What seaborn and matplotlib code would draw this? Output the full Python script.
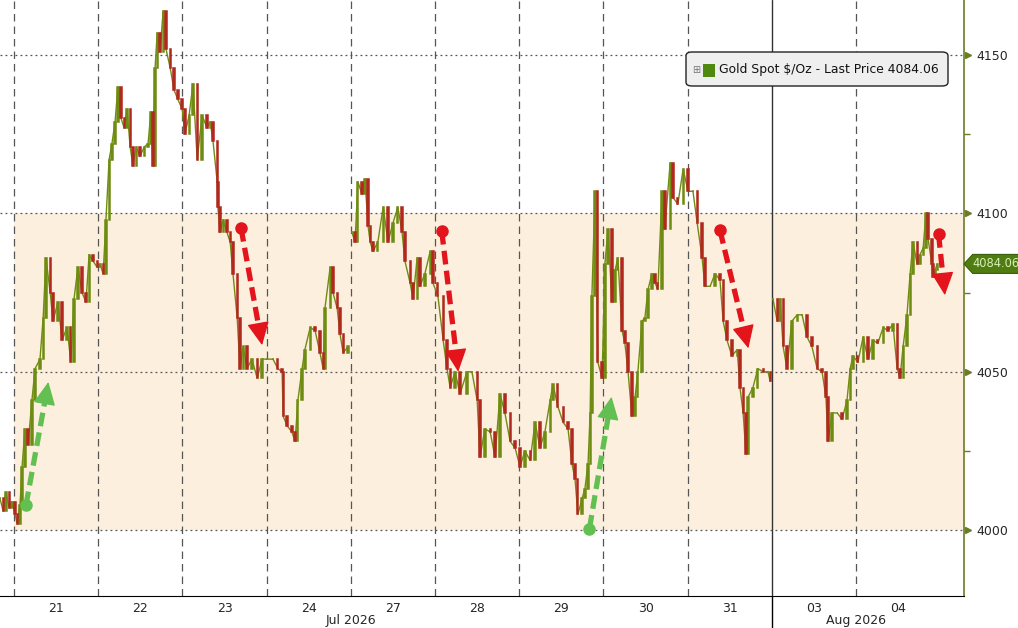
import matplotlib
matplotlib.use("Agg")
import matplotlib.pyplot as plt
import matplotlib.transforms as mtransforms
from matplotlib.patches import Polygon, FancyBboxPatch
import numpy as np
import seaborn as sns

# Gold spot $/oz. Hours are counted from the start of the
# 21 Jul session (one trading day = 24 h, weekends removed like Bloomberg does)
wk1_hours = [-4.0, -3.1, -2.3, -1.4, -0.6, 0.3, 0.9, 1.7, 2.3, 3.1, 4.0, 5.1, 6.0, 7.4,
             8.3, 9.1, 10.3, 11.1, 12.5, 13.7, 15.1, 16.2, 17.1, 18.2, 19.4, 20.5, 21.4,
             22.5, 23.7, 24.5, 25.4, 26.2, 27.1, 27.9, 28.8, 29.6, 30.5, 31.4, 32.2, 33.1,
             33.9, 34.8, 35.9, 37.1, 38.2, 39.0, 39.6, 40.2, 40.8, 41.6, 42.5, 43.3, 44.5,
             45.6, 46.7, 47.9, 48.7, 49.9, 51.0, 52.2, 53.6, 55.0, 55.9, 56.7, 57.9, 58.1,
             58.7, 59.6, 60.7, 61.6, 62.4, 63.6, 64.4, 65.3, 66.4, 67.8, 69.3, 70.7, 72.1,
             73.8, 75.2, 76.4, 76.7, 77.8, 79.2, 80.1, 80.9, 82.1, 82.9, 84.4, 85.8, 87.2,
             88.1, 88.6, 90.1, 90.9, 92.1, 92.9, 93.8, 95.2]
wk1_price = [4010, 4006, 4012, 4007, 4009, 4005, 4002, 4008, 4020, 4032, 4027, 4041, 4051, 4054,
             4067, 4086, 4075, 4066, 4072, 4060, 4064, 4053, 4073, 4083, 4075, 4072, 4087,
             4085, 4083, 4084, 4081, 4098, 4117, 4122, 4129, 4140, 4130, 4127, 4133, 4121,
             4115, 4121, 4118, 4121, 4122, 4132, 4115, 4146, 4157, 4151, 4164, 4152, 4146,
             4139, 4136, 4133, 4125, 4131, 4141, 4117, 4131, 4127, 4129, 4123, 4110, 4102,
             4094, 4098, 4094, 4091, 4081, 4067, 4051, 4058, 4051, 4054, 4048, 4054, 4054,
             4054, 4051, 4050, 4036, 4033, 4031, 4028, 4041, 4051, 4057, 4064, 4063, 4056,
             4051, 4070, 4083, 4075, 4070, 4062, 4056, 4058]

wk2_hours = [96.3, 97.2, 98.0, 99.2, 100.0, 100.9, 101.5, 102.3, 103.7, 105.2, 106.6, 108.0,
             109.4, 110.6, 111.4, 112.9, 113.7, 114.9, 115.7, 117.1, 118.6, 119.4, 120.8,
             122.3, 123.4, 124.3, 125.7, 127.1, 129.1, 130.5, 132.0, 132.8, 134.2, 135.7,
             137.1, 138.5, 139.9, 141.4, 142.8, 144.2, 145.6, 147.1, 148.5, 149.9, 151.3,
             152.8, 153.6, 155.0, 156.5, 157.9, 159.0, 159.9, 160.7, 161.9, 162.7, 163.6,
             164.2, 164.7, 165.6, 166.4, 167.6, 168.4, 169.3, 170.4, 171.3, 172.1, 173.3,
             174.1, 175.0, 176.1, 177.0, 177.8, 179.0, 179.8, 180.7, 181.8, 182.7, 183.5,
             184.7, 185.5, 187.0, 187.8, 189.2, 190.7, 192.1, 193.5, 194.7, 196.1, 196.9,
             198.4, 199.8, 201.2, 202.1, 203.2, 204.6, 206.1, 206.9, 207.8, 208.6, 209.2,
             210.6, 212.0, 213.5, 214.9, 215.5]
wk2_price = [4094, 4091, 4110, 4106, 4111, 4096, 4091, 4088, 4091, 4102, 4091, 4097,
             4102, 4094, 4085, 4078, 4073, 4086, 4077, 4081, 4088, 4078, 4074,
             4060, 4051, 4045, 4050, 4043, 4050, 4050, 4041, 4023, 4032, 4031,
             4023, 4043, 4037, 4028, 4026, 4020, 4025, 4022, 4034, 4026, 4031,
             4041, 4046, 4039, 4034, 4032, 4021, 4016, 4005, 4010, 4013, 4021,
             4037, 4074, 4107, 4053, 4048, 4084, 4095, 4072, 4082, 4086, 4063,
             4059, 4050, 4036, 4042, 4050, 4066, 4067, 4076, 4081, 4078, 4076,
             4107, 4095, 4116, 4105, 4103, 4114, 4107, 4107, 4097, 4086, 4077,
             4077, 4081, 4079, 4066, 4060, 4055, 4057, 4045, 4037, 4024, 4042,
             4045, 4051, 4050, 4050, 4047]

wk3_hours = [216.3, 217.5, 218.3, 219.2, 220.3, 221.7, 223.2, 224.6, 226.0, 227.4, 228.9,
             230.3, 231.4, 232.0, 233.1, 234.6, 236.0, 237.4, 238.3, 239.1, 240.5, 242.0,
             243.4, 244.8, 246.2, 247.7, 249.1, 250.5, 251.7, 252.5, 253.4, 254.5, 255.4,
             256.2, 257.4, 258.2, 259.1, 259.9, 260.5, 261.6, 261.9, 262.5, 263.1]
wk3_price = [4073, 4066, 4073, 4058, 4051, 4066, 4068, 4068, 4061, 4058, 4051,
             4050, 4042, 4028, 4037, 4037, 4035, 4041, 4051, 4055, 4053, 4061,
             4054, 4060, 4059, 4064, 4063, 4065, 4051, 4048, 4058, 4068, 4081,
             4091, 4084, 4087, 4089, 4100, 4092, 4084, 4080, 4082, 4084.06]

day_labels = ['21', '22', '23', '24', '27', '28', '29', '30', '31', '03', '04']
month_labels = ['Jul 2026', 'Aug 2026']
y_ticks = [4000, 4050, 4100, 4150]
y_minor = [4025, 4075, 4125]
band_low, band_high = 4000, 4100
last_price = 4084.06

# annotation arrows: (start hour, start price) -> (tip hour, tip price)
arrows_red = [((64.7, 4095.4), (70.7, 4058.4)),
              ((121.9, 4094.5), (126.6, 4050.0)),
              ((201.2, 4094.7), (209.3, 4057.4)),
              ((263.5, 4093.5), (265.3, 4074.2))]
arrows_green = [((3.4, 4007.9), (9.8, 4046.8)),
                ((164.0, 4000.5), (170.3, 4042.1))]

UP = '#6f8c12'
DOWN = '#b0281e'
AXIS_GREEN = '#6b7d22'
GRID = '#555555'

sns.set_style("white")
plt.rcParams['font.family'] = ['DejaVu Sans']

fig = plt.figure(figsize=(10.18, 6.28), dpi=100)
ax = fig.add_axes([0, 32 / 628, 964 / 1018, 596 / 628])
x_left, x_right = -4.0, 270.75
ax.set_xlim(x_left, x_right)
ax.set_ylim(3979.2, 4167.4)

# shaded range
ax.fill_between([0, x_right], band_low, band_high, color='#fdefdd', lw=0, zorder=0)

# grid
for k in range(len(day_labels)):
    if day_labels[k] == '03':
        ax.axvline(24 * k, color='#333333', lw=1.0, zorder=1)
    else:
        ax.axvline(24 * k, color=GRID, lw=0.9, ls=(0, (6, 4)), zorder=1)
for y in y_ticks:
    ax.axhline(y, color=GRID, lw=0.9, ls=(0, (1.5, 2.5)), zorder=1)

# candles, open = previous close inside a week
for hrs, px in [(wk1_hours, wk1_price), (wk2_hours, wk2_price), (wk3_hours, wk3_price)]:
    h = np.array(hrs)
    c = np.array(px, dtype=float)
    o = np.r_[c[0], c[:-1]]
    up = c >= o
    sns.lineplot(x=h, y=c, ax=ax, color=UP, lw=1.0, zorder=2)
    ax.bar(h[up], (c - o)[up], bottom=o[up], width=0.35, color=UP, edgecolor=UP, lw=1.1, zorder=3)
    ax.bar(h[~up], (c - o)[~up], bottom=o[~up], width=0.35, color=DOWN, edgecolor=DOWN, lw=1.1, zorder=3)

# dashed arrows: dashed shaft + solid filled head
head_px = 20
for arrows, col in [(arrows_red, '#e3141c'), (arrows_green, '#62c052')]:
    for start, tip in arrows:
        p0 = ax.transData.transform(start)
        p1 = ax.transData.transform(tip)
        u = (p1 - p0) / np.hypot(*(p1 - p0))
        base = ax.transData.inverted().transform(p1 - u * head_px)
        ax.plot([start[0], base[0]], [start[1], base[1]], color=col, lw=3.8,
                dashes=(2.6, 1.2), solid_capstyle='butt', dash_capstyle='butt', zorder=5)
        ax.annotate('', xy=tip, xytext=base,
                    arrowprops=dict(arrowstyle='-|>,head_length=1.45,head_width=0.7',
                                    color=col, lw=1, shrinkA=0, shrinkB=0), zorder=6)
        ax.plot([start[0]], [start[1]], marker='o', ms=8, color=col, zorder=6)

# axes styling
for s in ['left', 'top']:
    ax.spines[s].set_visible(False)
ax.spines['bottom'].set_color('black')
ax.spines['right'].set_color(AXIS_GREEN)
ax.spines['right'].set_linewidth(1.2)

ax.set_xticks([24 * k + 12 for k in range(len(day_labels))])
ax.set_xticklabels(day_labels, fontsize=9)
ax.tick_params(axis='x', length=0, pad=4)

ax.yaxis.tick_right()
ax.set_yticks(y_ticks)
ax.set_yticklabels([str(v) for v in y_ticks], fontsize=9)
ax.set_yticks(y_minor, minor=True)
ax.tick_params(axis='y', which='major', length=0, pad=9)
ax.tick_params(axis='y', which='minor', length=4, width=1, color=AXIS_GREEN, direction='out')
ax.set_ylabel('')

trans_y = mtransforms.blended_transform_factory(ax.transAxes, ax.transData)
ax.plot([1.004] * len(y_ticks), y_ticks, marker='>', ms=5, ls='none', color=AXIS_GREEN,
        transform=trans_y, clip_on=False, zorder=6)

# month labels and separator below axis
trans_x = mtransforms.blended_transform_factory(ax.transData, ax.transAxes)
ax.text(96, -0.041, month_labels[0], transform=trans_x, ha='center', va='center', fontsize=9)
ax.text(240, -0.041, month_labels[1], transform=trans_x, ha='center', va='center', fontsize=9)
ax.plot([216, 216], [0, -0.06], transform=trans_x, color='black', lw=1.0, clip_on=False)

# last price tag
tag = Polygon([(1.0, last_price), (1.009, last_price + 3.0), (1.06, last_price + 3.0),
               (1.06, last_price - 3.0), (1.009, last_price - 3.0)], closed=True,
              transform=trans_y, facecolor='#4f7d12', edgecolor='#3a5e0a', lw=0.8, clip_on=False, zorder=7)
ax.add_patch(tag)
ax.text(1.009, last_price, f'{last_price:.2f}', transform=trans_y, ha='left', va='center',
        fontsize=8.3, color='#d9efb8', clip_on=False, zorder=8)

# legend box
box = FancyBboxPatch((686 / 1018, 1 - 86 / 628), 262 / 1018, 34 / 628,
                     boxstyle='round,pad=0,rounding_size=0.006', transform=fig.transFigure,
                     facecolor='#efefef', edgecolor='#222222', lw=1.0, zorder=10)
fig.patches.append(box)
fig.patches.append(FancyBboxPatch((703 / 1018, 1 - 77 / 628), 12 / 1018, 13 / 628,
                                  boxstyle='square,pad=0', transform=fig.transFigure,
                                  facecolor='#4f8a10', edgecolor='none', zorder=11))
fig.text(696 / 1018, 1 - 70 / 628, '\u229e', fontsize=7, color='#777777', ha='center',
         va='center', zorder=12)
fig.text(719 / 1018, 1 - 70 / 628, 'Gold Spot $/Oz - Last Price 4084.06', fontsize=8.9,
         color='#111111', ha='left', va='center', zorder=12)

fig.savefig('out.png', dpi=100)
